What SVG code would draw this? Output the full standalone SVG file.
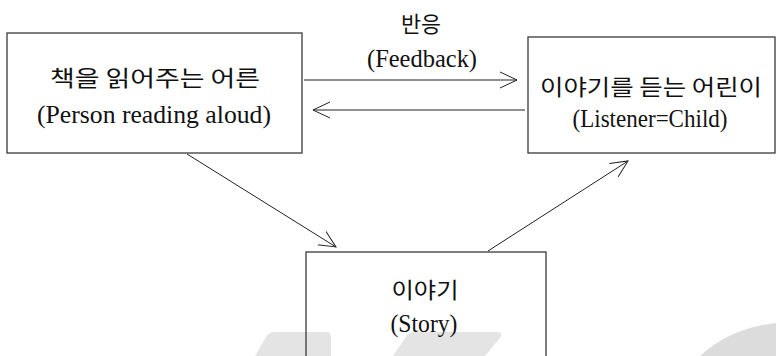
<svg xmlns="http://www.w3.org/2000/svg" width="776" height="356" viewBox="0 0 776 356">
<defs>
<style>
.box{fill:none;stroke:#3a3a3a;stroke-width:1.3}
.wm{fill:#e4e4e4}
.ko{font-family:"Noto Sans CJK KR","Noto Sans",sans-serif;font-size:22px;fill:#111;text-anchor:middle}
.en{font-family:"Liberation Serif","Times New Roman",serif;font-size:26px;fill:#111;text-anchor:middle}
.conn line{stroke:#222;stroke-width:1;fill:none;marker-end:url(#arr)}
</style>
<marker id="arr" markerUnits="userSpaceOnUse" viewBox="0 0 18 18" markerWidth="18" markerHeight="18" refX="17" refY="9" orient="auto">
<path d="M0,1 L17,9 L0,17" fill="none" stroke="#222" stroke-width="1"/>
</marker>
</defs>
<rect width="776" height="356" fill="#fff"/>
<g id="watermark">
<path class="wm" d="M255,356 L266,337 Q269,332 275,332 L326,332 Q331,332 331,337 L331,356 Z"/>
<path class="wm" d="M393,356 L407,335 Q410,332 415,332 L497,332 Q504,332 500,338 L485,356 Z"/>
<path class="wm" style="fill:#dcdcdc" d="M700,356 Q730,328 776,323 L776,356 Z"/>
</g>
<g class="conn" id="connectors">
<line x1="304" y1="80" x2="517" y2="80"/>
<line x1="525" y1="110" x2="313" y2="110"/>
<line x1="187" y1="154" x2="336" y2="247"/>
<line x1="488" y1="251" x2="628" y2="161"/>
</g>
<g id="feedback-label">
<text class="ko" x="421" y="32" textLength="40" lengthAdjust="spacingAndGlyphs">반응</text>
<text class="en" x="422" y="67" textLength="110" lengthAdjust="spacingAndGlyphs">(Feedback)</text>
</g>
<g id="adult">
<rect class="box" x="7" y="33" width="295" height="120"/>
<text class="ko" x="155" y="86" textLength="210" lengthAdjust="spacingAndGlyphs">책을 읽어주는 어른</text>
<text class="en" x="154" y="123" textLength="234" lengthAdjust="spacingAndGlyphs">(Person  reading  aloud)</text>
</g>
<g id="child">
<rect class="box" x="528" y="37" width="247" height="116"/>
<text class="ko" x="651" y="95" textLength="222" lengthAdjust="spacingAndGlyphs">이야기를 듣는 어린이</text>
<text class="en" x="650" y="127" textLength="155" lengthAdjust="spacingAndGlyphs">(Listener=Child)</text>
</g>
<g id="story">
<rect class="box" x="306" y="252" width="240" height="110"/>
<text class="ko" x="425" y="298" textLength="67" lengthAdjust="spacingAndGlyphs">이야기</text>
<text class="en" x="424" y="332" textLength="67" lengthAdjust="spacingAndGlyphs">(Story)</text>
</g>
</svg>
